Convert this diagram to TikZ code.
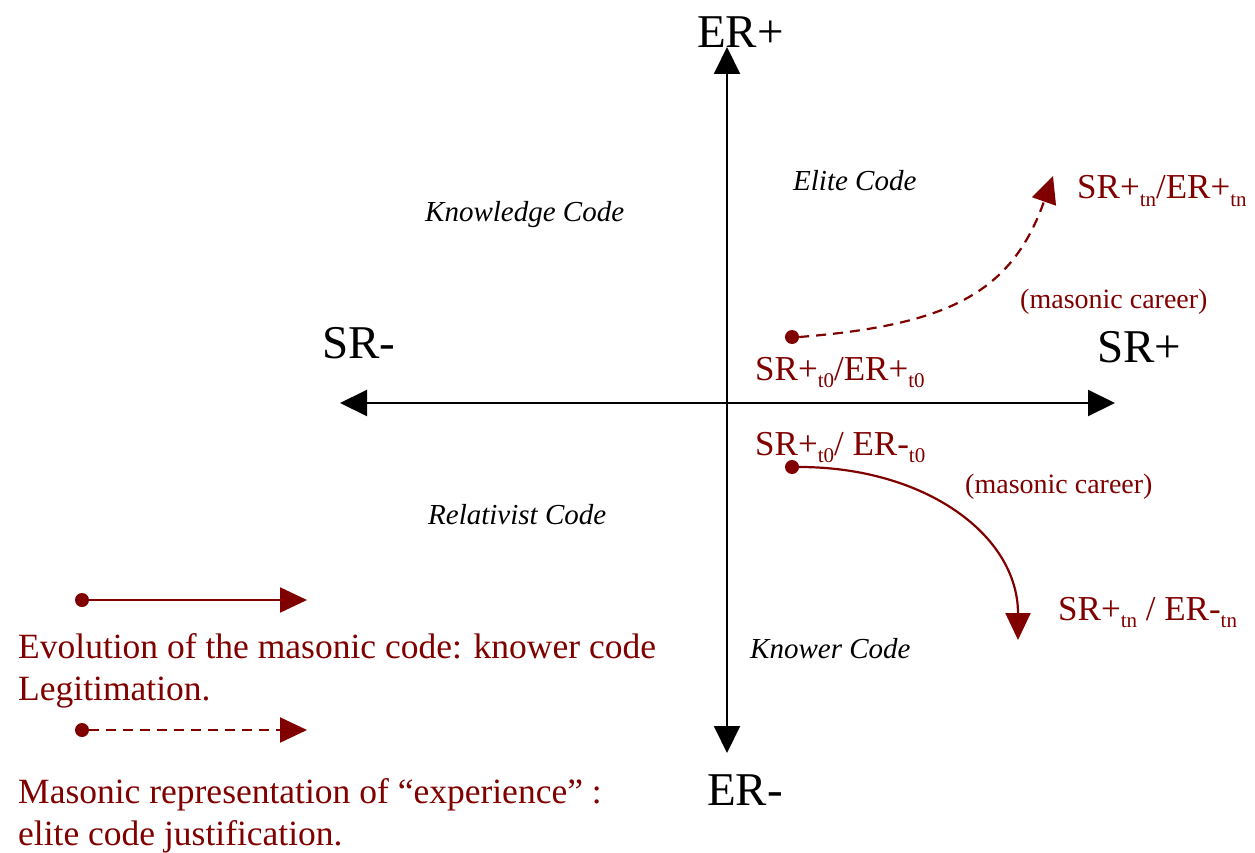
\documentclass[tikz,border=0pt]{standalone}
\usepackage{fontspec}
\setmainfont{Liberation Serif}
\usetikzlibrary{arrows.meta}
\definecolor{maroon}{RGB}{128,0,0}
\newcommand{\lowsub}[1]{\raisebox{-0.22em}{\fontsize{21}{21}\selectfont #1}}
\tikzset{
  axis/.style={line width=2pt, -{Triangle[length=27pt,width=26pt]}},
  redarrow/.style={maroon, line width=2.2pt, -{Triangle[length=27pt,width=25pt]}},
  reddash/.style={redarrow, dash pattern=on 10pt off 7pt},
  dotnode/.style={circle, fill=maroon, inner sep=0pt, minimum size=14pt},
  biglabel/.style={font=\fontsize{47}{54}\selectfont, inner sep=0pt, anchor=base west},
  codelabel/.style={font=\fontsize{29}{34}\itshape, inner sep=0pt, anchor=base west},
  redlabel/.style={maroon, font=\fontsize{35}{42}\selectfont, inner sep=0pt, anchor=base west},
  careerlabel/.style={maroon, font=\fontsize{28}{33}\selectfont, inner sep=0pt, anchor=base west},
  legendtext/.style={maroon, font=\fontsize{35.5}{43}\selectfont, inner sep=0pt, anchor=base west}
}
\begin{document}
\begin{tikzpicture}[x=1pt, y=-1pt]
\useasboundingbox (0,0) rectangle (1255,853);
% axes
\coordinate (left) at (340,403);
\coordinate (right) at (1115,403);
\coordinate (top) at (727,47);
\coordinate (bottom) at (727,753);
\coordinate (origin) at (727,403);
\draw[axis] (origin) -- (left);
\draw[axis] (origin) -- (right);
\draw[axis] (origin) -- (top);
\draw[axis] (origin) -- (bottom);
% axis labels
\node[biglabel] (erp) at (697,48) {ER+};
\node[biglabel] (erm) at (707,805) {ER-};
\node[biglabel] (srm) at (322,358) {SR-};
\node[biglabel] (srp) at (1097,362) {SR+};
% code labels
\node[codelabel] (elite) at (793,190) {Elite Code};
\node[codelabel] (knowledge) at (425,222) {Knowledge Code};
\node[codelabel] (relativist) at (428,524) {Relativist Code};
\node[codelabel] (knower) at (750,658) {Knower Code};
% upper trajectory
\node[dotnode] (d1) at (792,337) {};
\coordinate (t1) at (1053,176);
\draw[reddash] (d1.east) .. controls (950,325) and (1012,292) .. (t1);
\node[redlabel] (l1) at (755,380) {SR+\lowsub{t0}/ER+\lowsub{t0}};
\node[redlabel] (l2) at (1077,199) {SR+\lowsub{tn}/ER+\lowsub{tn}};
\node[careerlabel] (c1) at (1020,308) {(masonic career)};
% lower trajectory
\node[dotnode] (d2) at (792,467) {};
\coordinate (t2) at (1018,640);
\draw[redarrow] (d2.east) .. controls (925,467) and (1018,535) .. (t2);
\node[redlabel] (l3) at (755,455) {SR+\lowsub{t0}/ ER-\lowsub{t0}};
\node[redlabel] (l4) at (1058,620) {SR+\lowsub{tn} / ER-\lowsub{tn}};
\node[careerlabel] (c2) at (965,493) {(masonic career)};
% legend
\node[dotnode] (ld1) at (82,600) {};
\coordinate (lt1) at (307,600);
\draw[redarrow] (ld1.east) -- (lt1);
\node[legendtext] (e1) at (18,658) {Evolution of the masonic code: knower code};
\node[legendtext] (e2) at (18,700) {Legitimation.};
\node[dotnode] (ld2) at (82,730) {};
\coordinate (lt2) at (307,730);
\draw[reddash] (ld2.east) -- (lt2);
\node[legendtext] (m1) at (18,803) {Masonic representation of “experience” :};
\node[legendtext] (m2) at (18,845) {elite code justification.};
\end{tikzpicture}
\end{document}
